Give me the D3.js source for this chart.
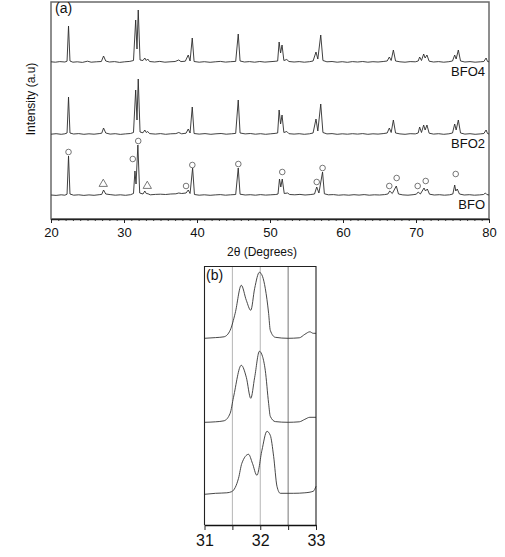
<!DOCTYPE html>
<html>
<head>
<meta charset="utf-8">
<script src="https://cdn.jsdelivr.net/npm/d3@7"></script>
<style>
  body { margin: 0; background: #fff; }
  svg { display: block; font-family: "Liberation Sans", Arial, sans-serif; }
</style>
</head>
<body>
<div id="container"></div>
<script>
/* DATA |, 2theta in degrees, intensity in arbitrary units */

// panel (a) patterns, intensity above each pattern's own baseline
const bfo4 = [
  [20,1.2],[20.6,0.8],[21.2,1.4],[21.9,1],[22.2,1.8],[22.4,37],[22.6,2],[23,0.8],[23.6,1.2],[24.3,0.6],
  [25,1.8],[25.5,0.8],[26.2,1.2],[26.9,1.5],[27.2,7],[27.5,2],[28,1],[28.7,1.4],[29.4,0.6],[30.1,1.2],
  [30.8,1.6],[31.3,2.5],[31.6,43],[31.78,14],[31.95,53],[32.2,3],[32.6,2.5],[32.85,5],[33.05,2.5],[33.25,4],
  [33.5,1.5],[34.2,1],[34.9,1.6],[35.6,0.8],[36.3,1.2],[37,1.5],[37.5,3],[37.8,1.4],[38.4,1.8],[38.8,8],
  [39.05,2],[39.35,25],[39.6,1.5],[40.3,0.8],[41,1.3],[41.8,0.7],[42.5,1.2],[43.2,1.6],[43.9,0.9],[44.6,1.3],
  [45.3,1.6],[45.65,29],[45.9,2],[46.5,1],[47.2,1.4],[47.9,0.8],[48.6,1.5],[49.3,0.9],[50,1.3],[50.7,1.7],
  [51.05,2],[51.25,21],[51.45,10],[51.65,18],[51.9,2.5],[52.3,3.5],[52.6,1.5],[53.3,1],[54,1.4],[54.7,0.8],
  [55.4,1.3],[55.9,2],[56.3,11],[56.55,4],[56.95,28],[57.25,2.5],[57.8,1.2],[58.5,1.5],[59.2,0.8],[59.9,1.3],
  [60.6,0.7],[61.3,1.4],[62,1],[62.7,1.5],[63.4,0.8],[64.1,1.3],[64.8,1],[65.5,1.5],[66.05,2],[66.35,6],
  [66.6,2.5],[66.9,13],[67.2,2],[67.8,1.2],[68.5,0.8],[69.2,1.4],[69.9,1.2],[70.3,2],[70.5,6],[70.75,2.5],
  [71.05,9],[71.25,5],[71.5,8],[71.8,1.8],[72.4,1],[73.1,1.4],[73.8,0.8],[74.5,1.3],[75,2],[75.3,8],
  [75.5,4],[75.8,13],[76.1,2],[76.7,1],[77.4,1.4],[78.1,0.8],[78.8,1.2],[79.3,1.5],[79.6,5],[79.8,1.5],[80,1.2]
];

const bfo2 = [
  [20,0.8],[20.7,1.3],[21.4,0.7],[21.9,1.2],[22.2,2],[22.4,38],[22.6,2],[23.1,1],[23.8,1.4],[24.5,0.7],
  [25.2,1.2],[25.9,0.8],[26.6,1.4],[26.95,1.8],[27.2,7],[27.5,2],[28.1,0.9],[28.8,1.3],[29.5,0.6],[30.2,1.1],
  [30.9,1.5],[31.3,2.5],[31.6,45],[31.78,15],[31.95,56],[32.2,3],[32.6,2.2],[32.85,5],[33.05,2.5],[33.25,3.5],
  [33.5,1.4],[34.3,0.9],[35,1.4],[35.7,0.7],[36.4,1.2],[37.1,1.4],[37.5,2.5],[37.9,1.2],[38.5,1.8],[38.8,6],
  [39.05,2],[39.35,28],[39.6,1.5],[40.3,0.9],[41.1,1.4],[41.9,0.7],[42.6,1.2],[43.3,1.5],[44,0.8],[44.7,1.2],
  [45.3,1.6],[45.65,35],[45.9,2],[46.6,1.1],[47.3,1.5],[48,0.8],[48.7,1.3],[49.4,0.7],[50.1,1.2],[50.7,1.6],
  [51.05,2],[51.25,25],[51.45,11],[51.65,20],[51.9,2.5],[52.3,3.5],[52.6,1.3],[53.3,0.9],[54,1.3],[54.7,0.7],
  [55.4,1.2],[55.9,2],[56.3,16],[56.55,4],[56.95,31],[57.25,2.5],[57.8,1.1],[58.5,1.4],[59.2,0.7],[59.9,1.2],
  [60.6,0.8],[61.3,1.3],[62,0.9],[62.7,1.4],[63.4,0.7],[64.1,1.2],[64.8,0.9],[65.5,1.4],[66.05,2],[66.35,7],
  [66.6,2.5],[66.9,15],[67.2,2],[67.8,1.1],[68.5,0.7],[69.2,1.3],[69.9,1.1],[70.3,2],[70.5,8],[70.75,2.5],
  [71.05,10],[71.25,5],[71.5,10],[71.8,1.8],[72.4,0.9],[73.1,1.3],[73.8,0.7],[74.5,1.2],[75,2],[75.3,11],
  [75.5,5],[75.8,15],[76.1,2],[76.7,0.9],[77.4,1.3],[78.1,0.7],[78.8,1.1],[79.3,1.5],[79.6,5],[79.8,1.5],[80,1]
];

const bfo = [
  [20,1],[20.7,0.6],[21.4,1.2],[21.9,0.8],[22.2,1.8],[22.4,40],[22.6,2],[23.1,0.8],[23.8,1.2],[24.5,0.6],
  [25.2,1.1],[25.9,0.7],[26.6,1.3],[26.95,1.6],[27.2,6],[27.5,2],[28.1,1.4],[28.8,0.8],[29.5,1.2],[30.2,0.7],
  [30.9,1.3],[31.3,2.5],[31.5,25],[31.65,12],[31.9,51],[32.15,3],[32.6,2],[32.85,5],[33.05,2.5],[33.3,2.2],
  [33.6,1.2],[34.3,1.6],[35,1.8],[35.7,1.5],[36.4,2],[37.1,2.2],[37.5,3],[37.9,2.5],[38.5,3],[38.8,6],
  [39.05,2.5],[39.4,28],[39.65,1.5],[40.3,0.8],[41,1.2],[41.8,0.7],[42.5,1.1],[43.2,1.4],[43.9,0.8],[44.6,1.2],
  [45.3,1.5],[45.65,28],[45.9,1.8],[46.6,1],[47.3,1.3],[48,0.8],[48.7,1.4],[49.4,0.9],[50.1,1.2],[50.8,1.5],
  [51.1,2],[51.3,17],[51.48,9],[51.68,17],[51.95,2.5],[52.4,3],[52.7,1.5],[53.4,1.2],[54.1,1.6],[54.8,1],
  [55.5,1.4],[56.1,2],[56.4,9],[56.7,3],[57.2,24],[57.45,2.2],[58,1.2],[58.7,1.4],[59.4,0.8],[60.1,1.2],
  [60.8,0.8],[61.5,1.3],[62.2,0.9],[62.9,1.4],[63.6,0.8],[64.3,1.2],[65,1],[65.7,1.4],[66.15,2],[66.4,5],
  [66.75,2.5],[67.3,10],[67.6,2],[68.2,1.1],[68.9,0.8],[69.6,1.3],[70.05,1.8],[70.3,4],[70.6,2],[71.1,8],
  [71.3,5],[71.55,7],[71.85,1.8],[72.5,1],[73.2,1.3],[73.9,0.8],[74.6,1.2],[75.05,2],[75.3,11],[75.45,5],
  [75.65,7],[75.95,2],[76.6,1],[77.3,1.3],[78,0.8],[78.7,1.1],[79.25,1.5],[79.5,3],[79.7,1.5],[80,1]
];

// vertical offsets of the three patterns and their names
const seriesNames = ["BFO", "BFO2", "BFO4"];
const seriesOffsets = [23, 84, 156];
const seriesData = [bfo, bfo2, bfo4];

// phase markers on the BFO pattern: [2theta, height above BFO baseline]
const circleMarks = [
  [22.4,44],[31.2,37],[31.95,55],[38.5,10],[39.36,31],[45.66,32],[51.68,24],[56.4,14],
  [57.2,28],[66.34,10],[67.35,18],[70.23,10],[71.33,15],[75.44,22]
];
const triangleMarks = [[27.16,12],[33.19,10]];

const xTicksA = [20, 30, 40, 50, 60, 70, 80];

// panel (b) close up of the 31-33 doublet, same top-to-bottom order
const zoomTop = [
  [31.0,0],[31.2,0.7],[31.35,1.5],[31.46,8],[31.55,25],[31.66,53],[31.75,38],[31.83,28],[31.9,50],[31.985,66],
  [32.04,62],[32.09,50],[32.15,25],[32.18,8],[32.27,1],[32.5,0],[32.7,0.5],[32.8,4],[32.89,6.5],[32.95,5],[33.0,5]
];
const zoomMid = [
  [31.0,0],[31.2,0.5],[31.35,1.5],[31.46,9],[31.52,25],[31.66,57],[31.75,45],[31.83,24],[31.9,45],[31.985,71],
  [32.04,66],[32.09,52],[32.15,19],[32.18,6],[32.27,0.7],[32.5,0],[32.7,0.5],[32.8,3],[32.89,5],[33.0,5]
];
const zoomBottom = [
  [31.0,-1],[31.2,0],[31.4,0.5],[31.49,1.7],[31.61,15],[31.67,30],[31.79,39],[31.86,30],[31.94,18],[32.03,43],
  [32.12,62],[32.18,58],[32.24,37],[32.3,7],[32.36,0],[32.6,0],[32.8,0.5],[32.95,2],[33.0,7]
];
const zoomData = [zoomBottom, zoomMid, zoomTop];
const zoomOffsets = [31.7, 102.7, 186.7];
const zoomGrid = [31.5, 32, 32.5];
const xTicksB = [31, 31.5, 32, 32.5, 33];

/* CONSTANTS */
const width = 505, height = 557;
const a = { left: 51, right: 489, top: 2, bottom: 219 };
const b = { left: 204.5, right: 316, top: 266.5, bottom: 525 };

const svg = d3.select("#container").append("svg")
  .attr("width", width)
  .attr("height", height);

/* PANEL (a) */
const xA = d3.scaleLinear().domain([20, 80]).range([a.left, a.right]);
const yA = d3.scaleLinear().domain([0, 217]).range([a.bottom, a.top]);

svg.append("rect")
  .attr("x", a.left).attr("y", a.top)
  .attr("width", a.right - a.left).attr("height", a.bottom - a.top)
  .attr("fill", "none").attr("stroke", "#6a6a6a").attr("stroke-width", 1.5);

const lineGen = off => d3.line()
  .x(d => xA(d[0]))
  .y(d => yA(off + d[1]));

seriesData.forEach((s, i) => {
  svg.append("path")
    .attr("d", lineGen(seriesOffsets[i])(s))
    .attr("fill", "none")
    .attr("stroke", "#2b2b2b")
    .attr("stroke-width", 0.9)
    .attr("stroke-linejoin", "round");

  svg.append("text")
    .attr("x", a.right - 4)
    .attr("y", yA(seriesOffsets[i]) + 13)
    .attr("text-anchor", "end")
    .style("font-size", "13px")
    .style("fill", "#111")
    .text(seriesNames[i]);
});

// markers on BFO
svg.selectAll(".circ")
  .data(circleMarks)
  .join("circle")
  .attr("class", "circ")
  .attr("cx", d => xA(d[0]))
  .attr("cy", d => yA(seriesOffsets[0] + d[1]))
  .attr("r", 2.8)
  .attr("fill", "none")
  .attr("stroke", "#555")
  .attr("stroke-width", 0.8);

svg.selectAll(".tri")
  .data(triangleMarks)
  .join("path")
  .attr("class", "tri")
  .attr("d", d3.symbol().type(d3.symbolTriangle).size(30))
  .attr("transform", d => `translate(${xA(d[0])},${yA(seriesOffsets[0] + d[1])})`)
  .attr("fill", "none")
  .attr("stroke", "#555")
  .attr("stroke-width", 0.8);

// minor ticks every degree, major every ten
svg.append("g")
  .attr("transform", `translate(0,${a.bottom})`)
  .call(d3.axisBottom(xA).tickValues(d3.range(20, 81, 1)).tickSize(2).tickFormat(""))
  .call(g => g.select(".domain").remove())
  .call(g => g.selectAll("line").attr("stroke", "#444"));

const axA = svg.append("g")
  .attr("transform", `translate(0,${a.bottom})`)
  .call(d3.axisBottom(xA).tickValues(xTicksA).tickSize(4).tickSizeOuter(0).tickPadding(5))
  .call(g => g.select(".domain").attr("stroke", "#222").attr("stroke-width", 1.3))
  .call(g => g.selectAll("line").attr("stroke", "#222"));
axA.selectAll("text")
  .style("font-size", "13px")
  .style("font-family", "Liberation Sans, Arial, sans-serif")
  .attr("fill", "#111");

svg.append("text")
  .attr("x", 262).attr("y", 256)
  .attr("text-anchor", "middle")
  .style("font-size", "12px")
  .style("fill", "#111")
  .text("2θ (Degrees)");

svg.append("text")
  .attr("transform", `translate(35,99) rotate(-90)`)
  .attr("text-anchor", "middle")
  .style("font-size", "12px")
  .style("fill", "#111")
  .text("Intensity (a.u)");

svg.append("text")
  .attr("x", 55).attr("y", 13)
  .style("font-size", "14px")
  .style("fill", "#111")
  .text("(a)");

/* PANEL (b) */
const xB = d3.scaleLinear().domain([31, 33]).range([b.left, b.right]);
const yB = d3.scaleLinear().domain([0, b.bottom - b.top]).range([b.bottom, b.top]);

svg.selectAll(".grid")
  .data(zoomGrid)
  .join("line")
  .attr("class", "grid")
  .attr("x1", d => xB(d)).attr("x2", d => xB(d))
  .attr("y1", b.top).attr("y2", b.bottom)
  .attr("stroke", (d, i) => i === 2 ? "#777" : "#b5b5b5")
  .attr("stroke-width", 1);

zoomData.forEach((s, i) => {
  svg.append("path")
    .attr("d", d3.line()
      .curve(d3.curveMonotoneX)
      .x(d => xB(d[0]))
      .y(d => yB(zoomOffsets[i] + d[1]))(s))
    .attr("fill", "none")
    .attr("stroke", "#333")
    .attr("stroke-width", 0.9)
    .attr("stroke-linejoin", "round");
});

svg.append("path")
  .attr("d", `M${b.left},${b.bottom}V${b.top}H${b.right}V${b.bottom}`)
  .attr("fill", "none")
  .attr("stroke", "#222")
  .attr("stroke-width", 1.1);

const axB = svg.append("g")
  .attr("transform", `translate(0,${b.bottom})`)
  .call(d3.axisBottom(xB).tickValues(xTicksB).tickSize(5).tickSizeOuter(0).tickPadding(5)
    .tickFormat(d => Number.isInteger(d) ? d : ""))
  .call(g => g.select(".domain").attr("stroke", "#111").attr("stroke-width", 1.5))
  .call(g => g.selectAll("line").attr("stroke", "#222"));
axB.selectAll("text")
  .style("font-size", "16px")
  .style("font-family", "Liberation Sans, Arial, sans-serif")
  .attr("fill", "#111");

svg.append("text")
  .attr("x", 206).attr("y", 280)
  .style("font-size", "14px")
  .style("fill", "#111")
  .text("(b)");
</script>
</body>
</html>
